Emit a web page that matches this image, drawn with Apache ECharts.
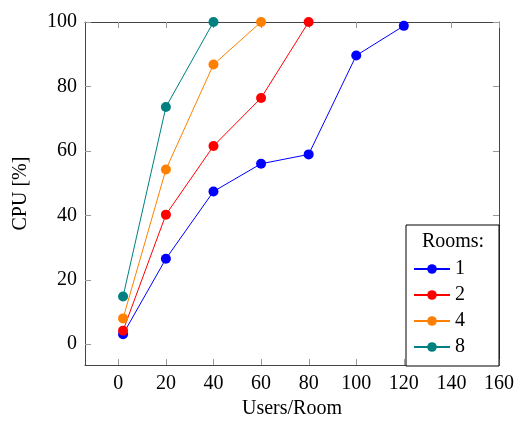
<!DOCTYPE html>
<html>
<head>
<meta charset="utf-8">
<script src="https://cdn.jsdelivr.net/npm/echarts@6/dist/echarts.min.js"></script>
<style>
  html, body { margin: 0; padding: 0; background: #fff; }
  #chart { width: 517px; height: 424px; }
</style>
</head>
<body>
<div id="chart"></div>
<script>
// CPU load against users per room, one line per room count
const roomCounts = ['1', '2', '4', '8'];
const users1 = [2, 20, 40, 60, 80, 100, 120];
const cpu1   = [3.1, 26.5, 47.4, 56.0, 58.9, 89.6, 98.8];
const users2 = [2, 20, 40, 60, 80];
const cpu2   = [4.2, 40.2, 61.5, 76.4, 100];
const users4 = [2, 20, 40, 60];
const cpu4   = [8.0, 54.2, 86.8, 100];
const users8 = [2, 20, 40];
const cpu8   = [14.8, 73.6, 100];
const xTicks = [0, 20, 40, 60, 80, 100, 120, 140, 160];
const yTicks = [0, 20, 40, 60, 80, 100];

const colors = ['#0000ff', '#ff0000', '#ff8000', '#008080'];
const xs = [users1, users2, users4, users8];
const ys = [cpu1, cpu2, cpu4, cpu8];

const FONT = 'Liberation Serif';
const X_MIN = -14, X_MAX = 160, Y_MIN = -6.5, Y_MAX = 100;
const TICK_LEN = 6;
const frame = { show: true, onZero: false, lineStyle: { color: '#444', width: 1 } };

const option = {
  animation: false,
  backgroundColor: '#fff',
  grid: { left: 85, right: 17, top: 22, bottom: 58 },
  xAxis: [
    {
      type: 'value', min: X_MIN, max: X_MAX, position: 'bottom',
      splitLine: { show: false }, axisLine: frame, axisTick: { show: false },
      name: 'Users/Room', nameLocation: 'middle', nameGap: 33,
      nameTextStyle: { fontFamily: FONT, fontSize: 20, color: '#000' },
      axisLabel: { customValues: xTicks, fontFamily: FONT, fontSize: 20, color: '#000', margin: 9 }
    },
    {
      type: 'value', min: X_MIN, max: X_MAX, position: 'top',
      splitLine: { show: false }, axisLine: frame, axisTick: { show: false },
      axisLabel: { show: false }
    }
  ],
  yAxis: [
    {
      type: 'value', min: Y_MIN, max: Y_MAX, position: 'left',
      splitLine: { show: false }, axisLine: frame, axisTick: { show: false },
      name: 'CPU [%]', nameLocation: 'middle', nameGap: 54,
      nameTextStyle: { fontFamily: FONT, fontSize: 20, color: '#000' },
      axisLabel: { customValues: yTicks, fontFamily: FONT, fontSize: 20, color: '#000', margin: 8 }
    },
    {
      type: 'value', min: Y_MIN, max: Y_MAX, position: 'right',
      splitLine: { show: false }, axisLine: frame, axisTick: { show: false },
      axisLabel: { show: false }
    }
  ],
  legend: {
    orient: 'vertical',
    left: 406, top: 225,
    padding: [34, 10, 9, 7],
    itemGap: 6,
    itemWidth: 36, itemHeight: 12,
    backgroundColor: '#fff',
    borderColor: '#000', borderWidth: 1, borderRadius: 0,
    z: 10,
    textStyle: { fontFamily: FONT, fontSize: 20, color: '#000', width: 34, align: 'center', lineHeight: 20 },
    data: roomCounts
  },
  series: roomCounts.map((name, i) => ({
    name: name,
    type: 'line',
    clip: false,
    data: xs[i].map((x, j) => [x, ys[i][j]]),
    symbol: 'circle', symbolSize: 10,
    itemStyle: { color: colors[i] },
    lineStyle: { color: colors[i], width: 1 }
  }))
};

const chart = echarts.init(document.getElementById('chart'), null, { renderer: 'canvas' });
chart.setOption(option);

// Inward tick marks on all four sides, placed through the axes' own scales
const edgeL = chart.convertToPixel({ xAxisIndex: 0 }, X_MIN);
const edgeR = chart.convertToPixel({ xAxisIndex: 0 }, X_MAX);
const edgeT = chart.convertToPixel({ yAxisIndex: 0 }, Y_MAX);
const edgeB = chart.convertToPixel({ yAxisIndex: 0 }, Y_MIN);
const tickLine = { stroke: '#999', lineWidth: 1 };
const marks = [];
xTicks.forEach(v => {
  const px = Math.round(chart.convertToPixel({ xAxisIndex: 0 }, v)) + 0.5;
  marks.push({ type: 'line', z: 1, shape: { x1: px, y1: edgeB, x2: px, y2: edgeB - TICK_LEN }, style: tickLine });
  marks.push({ type: 'line', z: 1, shape: { x1: px, y1: edgeT, x2: px, y2: edgeT + TICK_LEN }, style: tickLine });
});
yTicks.forEach(v => {
  const py = Math.round(chart.convertToPixel({ yAxisIndex: 0 }, v)) + 0.5;
  marks.push({ type: 'line', z: 1, shape: { x1: edgeL, y1: py, x2: edgeL + TICK_LEN, y2: py }, style: tickLine });
  marks.push({ type: 'line', z: 1, shape: { x1: edgeR, y1: py, x2: edgeR - TICK_LEN, y2: py }, style: tickLine });
});
marks.push({
  type: 'text', x: 453, y: 232, z: 100,
  style: { text: 'Rooms:', font: '20px "Liberation Serif"', fill: '#000', textAlign: 'center', textVerticalAlign: 'top' }
});
chart.setOption({ graphic: marks });
</script>
</body>
</html>
